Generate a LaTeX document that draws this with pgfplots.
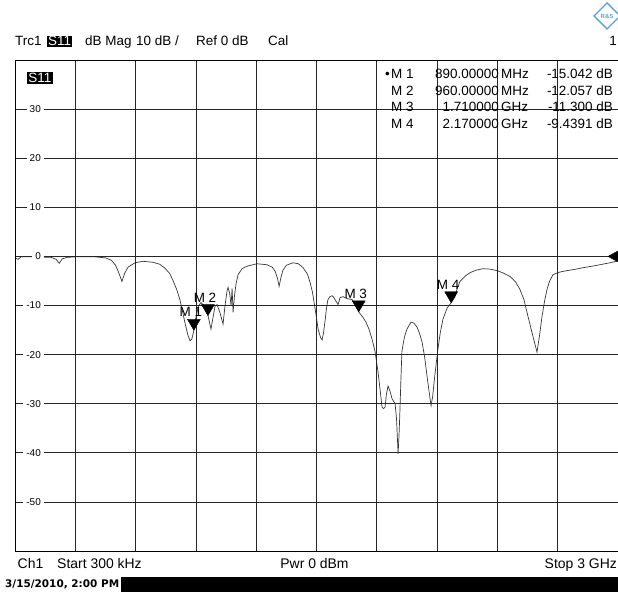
\documentclass[border=0pt]{standalone}
\usepackage{fontspec}
\setmainfont{Liberation Sans}
\newfontfamily\datefont{DejaVu Sans}
\usepackage{pgfplots}
\pgfplotsset{compat=1.18}

\definecolor{rsblue}{RGB}{95,160,215}
\definecolor{trace}{RGB}{55,55,55}

% marker triangle, tip on the trace point
\pgfdeclareplotmark{mdown}{%
  \pgfpathmoveto{\pgfpoint{0bp}{0bp}}%
  \pgfpathlineto{\pgfpoint{-6.5bp}{11bp}}%
  \pgfpathlineto{\pgfpoint{6.5bp}{11bp}}%
  \pgfpathclose
  \pgfusepathqfillstroke}
% reference level arrow at the right edge
\pgfdeclareplotmark{mleft}{%
  \pgfpathmoveto{\pgfpoint{-10bp}{0bp}}%
  \pgfpathlineto{\pgfpoint{1bp}{6bp}}%
  \pgfpathlineto{\pgfpoint{1bp}{-6bp}}%
  \pgfpathclose
  \pgfusepathqfillstroke}

\newcommand\hfont{\fontsize{13.5}{16}\selectfont}
\newcommand\bfont{\fontsize{14}{16}\selectfont}

\begin{document}
\begin{tikzpicture}
\useasboundingbox (0,0) rectangle (618bp,592bp);

\begin{axis}[
  at={(15bp,41bp)}, anchor=south west,
  scale only axis, width=603bp, height=491bp,
  xmin=0, xmax=3000, ymin=-60, ymax=40,
  xtick={300,600,...,2700}, xticklabels={},
  ytick={-50,-40,...,30},
  yticklabels={-50,-40,-30,-20,-10,0,10,20,30},
  major tick length=0pt,
  grid=major,
  major grid style={black!85, line width=0.7bp},
  axis line style={black, line width=0.9bp},
  yticklabel style={font=\fontsize{10}{12}\selectfont, anchor=east,
    xshift=29bp, fill=white, inner sep=3bp},
  axis on top,
  clip=false,
]
\addplot[trace, line width=0.7bp] coordinates {
(0.3,-0.3)(15,-0.6)(30,-0.1)(100,-0.1)(180,-0.2)(205,-0.6)(220,-1.4)(235,-0.5)
(260,-0.2)(300,-0.1)(400,-0.1)(450,-0.3)(480,-0.8)(500,-1.8)(515,-3.2)(532,-5.1)
(545,-3.5)(562,-2.2)(597,-1.3)(637,-1.0)(687,-1.2)(720,-1.6)(746,-2.4)(770,-3.5)
(786,-4.9)(805,-6.8)(821,-8.9)(835,-11.5)(846,-13.6)(860,-16)(871,-17.2)(880,-16.8)
(890,-15.042)(900,-12.5)(912,-10.2)(925,-9.4)(940,-10)(960,-12.057)(968,-13.5)
(975,-14.8)(985,-12.5)(995,-10.2)(1005,-9.8)(1020,-11.5)(1035,-13.8)(1045,-10)
(1055,-7)(1060,-6.3)(1068,-7.5)(1075,-10)(1080,-6.5)(1085,-11.4)(1092,-8)
(1100,-5.5)(1110,-3.7)(1130,-2.5)(1154,-2)(1204,-1.5)(1254,-1.7)(1280,-2.2)
(1294,-3)(1306,-4.5)(1314,-6.1)(1322,-4.5)(1333,-2.8)(1350,-1.8)(1383,-1.3)
(1410,-1.5)(1433,-2.3)(1455,-3.6)(1468,-5.3)(1480,-7.3)(1488,-9.4)(1498,-12)
(1508,-14.8)(1520,-16.5)(1528,-17)(1535,-15.5)(1543,-13)(1550,-10.5)(1557,-8.8)
(1567,-8.2)(1577,-8)(1585,-8.3)(1592,-8.8)(1600,-9.3)(1607,-9.8)(1612,-9.2)
(1617,-8.4)(1632,-8.2)(1652,-8.6)(1677,-8.8)(1695,-9.8)(1710,-11.3)(1731,-12.4)
(1746,-13.4)(1761,-14.8)(1776,-16.8)(1791,-19.3)(1806,-23.5)(1816,-27)(1826,-30.7)
(1834,-31)(1841,-30.7)(1848,-28)(1856,-26.4)(1866,-27.5)(1876,-29)(1891,-30)
(1898,-33)(1906,-40.2)(1911,-36)(1915,-31.5)(1920,-25)(1925,-19.3)(1937,-16.5)
(1950,-14.8)(1970,-13.4)(1985,-13.6)(2000,-14.4)(2012,-15.6)(2025,-17.4)
(2038,-20.5)(2050,-24.4)(2060,-27.5)(2070,-30.4)(2078,-28.5)(2085,-25.6)
(2095,-22)(2104,-18.9)(2116,-15.5)(2129,-12.8)(2150,-10.5)(2170,-9.4391)
(2189,-8.2)(2200,-6.5)(2214,-5.1)(2240,-4)(2264,-3.3)(2295,-2.8)(2328,-2.5)
(2365,-2.6)(2398,-2.9)(2430,-3.4)(2463,-4.1)(2490,-5.2)(2512,-6.7)(2532,-8.8)
(2552,-12.2)(2572,-15.5)(2597,-19.5)(2610,-16)(2622,-12.2)(2635,-9)(2647,-6.7)
(2660,-5)(2677,-3.7)(2710,-3.2)(2746,-2.9)(2790,-2.6)(2826,-2.3)(2870,-2)
(2910,-1.7)(2960,-1.3)(3000,-0.9)
};
% markers M1..M4
\addplot[only marks, mark=mdown, mark options={fill=black, draw=black},
  nodes near coords, point meta=explicit symbolic,
  every node near coord/.append style={font=\hfont, anchor=center,
    xshift=-3bp, yshift=18bp, inner sep=0pt, text=black}]
  coordinates {(890,-15.042)[M 1] (960,-12.057)[M 2] (1710,-11.300)[M 3] (2170,-9.4391)[M 4]};
% reference level
\addplot[only marks, mark=mleft, mark options={fill=black, draw=black}]
  coordinates {(3000,0)};
\end{axis}

% header line
\node[anchor=base west, inner sep=0pt] at (15bp,546bp) {\hfont Trc1};
\node[anchor=base west, inner sep=1bp, fill=black, text=white] at (47bp,546bp) {\hfont S11};
\node[anchor=base west, inner sep=0pt] at (85bp,546bp) {\hfont dB Mag};
\node[anchor=base west, inner sep=0pt] at (136bp,546bp) {\hfont 10 dB /};
\node[anchor=base west, inner sep=0pt] at (196bp,546bp) {\hfont Ref 0 dB};
\node[anchor=base west, inner sep=0pt] at (268bp,546bp) {\hfont Cal};
\node[anchor=base east, inner sep=0pt] at (617bp,546bp) {\hfont 1};

% R&S logo
\draw[rsblue, line width=1.4bp] (607bp,589bp) -- (620bp,576bp) -- (607bp,563bp) -- (594bp,576bp) -- cycle;
\node[rsblue, inner sep=0pt, font=\bfseries\fontsize{6}{6}\selectfont] at (607bp,576bp) {R\&S};

% trace label inside diagram
\node[anchor=base west, inner sep=1.2bp, fill=black, text=white] at (27bp,509bp) {\hfont S11};

% marker readout
\node[anchor=base east, inner sep=0pt] at (390bp,513bp) {\hfont •};
\node[anchor=base west, inner sep=0pt] at (391bp,513bp) {\hfont M 1};
\node[anchor=base west, inner sep=0pt] at (391bp,496.5bp) {\hfont M 2};
\node[anchor=base west, inner sep=0pt] at (391bp,480bp) {\hfont M 3};
\node[anchor=base west, inner sep=0pt] at (391bp,463.5bp) {\hfont M 4};
\node[anchor=base east, inner sep=0pt] at (499bp,513bp) {\hfont 890.00000};
\node[anchor=base east, inner sep=0pt] at (499bp,496.5bp) {\hfont 960.00000};
\node[anchor=base east, inner sep=0pt] at (499bp,480bp) {\hfont 1.710000};
\node[anchor=base east, inner sep=0pt] at (499bp,463.5bp) {\hfont 2.170000};
\node[anchor=base west, inner sep=0pt] at (501bp,513bp) {\hfont MHz};
\node[anchor=base west, inner sep=0pt] at (501bp,496.5bp) {\hfont MHz};
\node[anchor=base west, inner sep=0pt] at (501bp,480bp) {\hfont GHz};
\node[anchor=base west, inner sep=0pt] at (501bp,463.5bp) {\hfont GHz};
\node[anchor=base east, inner sep=0pt] at (613bp,513bp) {\hfont -15.042 dB};
\node[anchor=base east, inner sep=0pt] at (613bp,496.5bp) {\hfont -12.057 dB};
\node[anchor=base east, inner sep=0pt] at (613bp,480bp) {\hfont -11.300 dB};
\node[anchor=base east, inner sep=0pt] at (613bp,463.5bp) {\hfont -9.4391 dB};

% channel line
\node[anchor=base west, inner sep=0pt] at (17.5bp,24bp) {\bfont Ch1};
\node[anchor=base west, inner sep=0pt] at (57bp,24bp) {\bfont Start 300 kHz};
\node[anchor=base, inner sep=0pt] at (314.5bp,24bp) {\bfont Pwr 0 dBm};
\node[anchor=base east, inner sep=0pt] at (617bp,24bp) {\bfont Stop 3 GHz};

% status bar
\fill[black] (121bp,0bp) rectangle (618bp,15bp);
\node[anchor=base west, inner sep=0pt] at (5bp,5bp) {\datefont\bfseries\fontsize{10.5}{12}\selectfont 3/15/2010, 2:00 PM};
\end{tikzpicture}
\end{document}
